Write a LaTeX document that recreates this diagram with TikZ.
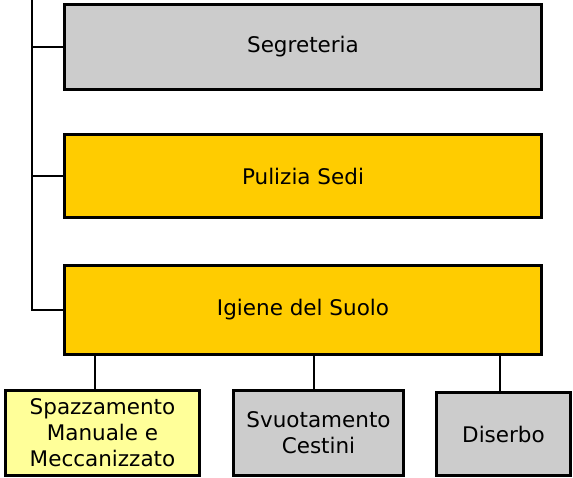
\documentclass[tikz,border=0pt]{standalone}
\usepackage{fontspec}
\setmainfont{DejaVu Sans}
\definecolor{grigio}{HTML}{CCCCCC}
\definecolor{arancio}{HTML}{FFCC00}
\definecolor{giallino}{HTML}{FFFF99}
\begin{document}
\begin{tikzpicture}[x=1pt,y=-1pt]
\tikzset{box/.style={rectangle,draw,line width=3.4pt,inner sep=0pt,align=center,text=black,font=\fontsize{21.5}{26}\selectfont},
link/.style={line width=1.8pt}}

  \useasboundingbox (0,0) rectangle (573,478);

  \draw (303,47) node[box,fill=grigio,minimum width=477pt,minimum height=85pt](seg) {Segreteria};
  \draw (303,176) node[box,fill=arancio,minimum width=477pt,minimum height=83pt](puli) {Pulizia Sedi};
  \draw (303,310) node[box,fill=arancio,minimum width=477pt,minimum height=89pt](igiene) {Igiene del Suolo};

  \draw (102.5,433) node[box,fill=giallino,minimum width=194pt,minimum height=85pt](spaz) {Spazzamento\\Manuale e\\Meccanizzato};
  \draw (318.5,433) node[box,fill=grigio,minimum width=170pt,minimum height=85pt](svuo) {Svuotamento\\Cestini};
  \draw (503.5,434) node[box,fill=grigio,minimum width=134pt,minimum height=83pt](dis) {Diserbo};

  \coordinate (top) at (32,0);

	\draw[link] (top) |- (igiene.west);
	\draw[link] (top |- seg.west) -- (seg.west);
	\draw[link] (top |- puli.west) -- (puli.west);

	\draw[link] ([xshift=-7.5pt]spaz.north) -- ([xshift=-7.5pt]spaz.north |- igiene.south);
	\draw[link] ([xshift=-4.5pt]svuo.north) -- ([xshift=-4.5pt]svuo.north |- igiene.south);
	\draw[link] ([xshift=-3.5pt]dis.north) -- ([xshift=-3.5pt]dis.north |- igiene.south);
\end{tikzpicture}
\end{document}
